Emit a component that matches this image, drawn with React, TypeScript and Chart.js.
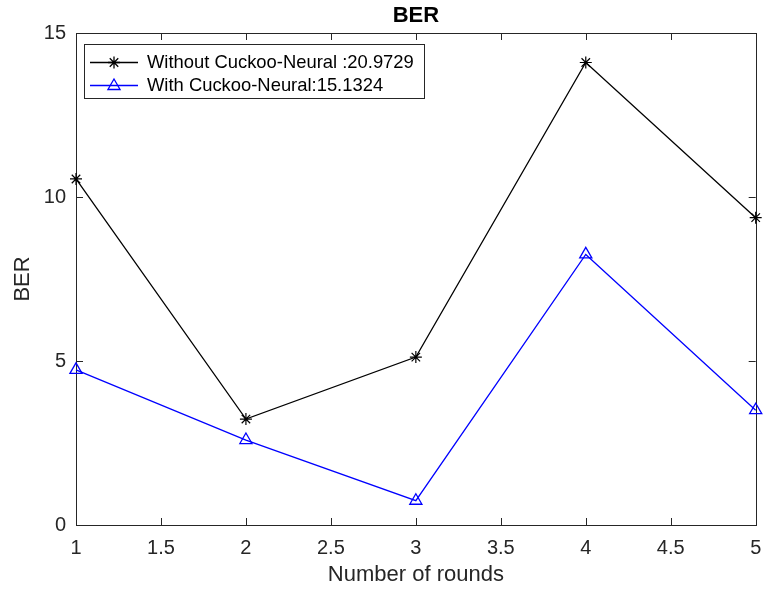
import React, { useEffect, useRef } from 'react';
import { Chart, registerables } from 'chart.js';

Chart.register(...registerables);

const rounds = [1, 2, 3, 4, 5];
const withoutCuckoo = [10.55, 3.23, 5.12, 14.1, 9.37];
const withCuckoo = [4.73, 2.59, 0.74, 8.25, 3.5];
const seriesLabels = ['Without Cuckoo-Neural :20.9729', 'With Cuckoo-Neural:15.1324'];
const xTicks = [1, 1.5, 2, 2.5, 3, 3.5, 4, 4.5, 5];
const yTicks = [0, 5, 10, 15];
const chartTitle = 'BER';
const xTitle = 'Number of rounds';
const yTitle = 'BER';

const FONT = '"Liberation Sans", Arial, Helvetica, sans-serif';
const AXIS = '#262626';

function drawStar(ctx: CanvasRenderingContext2D, x: number, y: number, r: number) {
  ctx.beginPath();
  for (let i = 0; i < 4; i++) {
    const a = (i * Math.PI) / 4;
    ctx.moveTo(x - Math.cos(a) * r, y - Math.sin(a) * r);
    ctx.lineTo(x + Math.cos(a) * r, y + Math.sin(a) * r);
  }
  ctx.stroke();
}

function drawTriangle(ctx: CanvasRenderingContext2D, x: number, y: number, r: number) {
  ctx.beginPath();
  let rad = 0;
  ctx.moveTo(x + Math.sin(rad) * r, y - Math.cos(rad) * r);
  rad += (2 * Math.PI) / 3;
  ctx.lineTo(x + Math.sin(rad) * r, y - Math.cos(rad) * r);
  rad += (2 * Math.PI) / 3;
  ctx.lineTo(x + Math.sin(rad) * r, y - Math.cos(rad) * r);
  ctx.closePath();
  ctx.stroke();
}

const framePlugin = {
  id: 'matlabFrame',
  beforeDatasetsDraw(chart: any) {
    const ctx = chart.ctx as CanvasRenderingContext2D;
    const { left, right, top, bottom } = chart.chartArea;
    const xs = chart.scales.x;
    const ys = chart.scales.y;
    const tl = 7;
    ctx.save();
    ctx.strokeStyle = AXIS;
    ctx.lineWidth = 1;
    ctx.strokeRect(Math.round(left) + 0.5, Math.round(top) + 0.5, Math.round(right - left), Math.round(bottom - top));
    ctx.beginPath();
    xs.ticks.forEach((t: any) => {
      const px = Math.round(xs.getPixelForValue(t.value)) + 0.5;
      ctx.moveTo(px, bottom);
      ctx.lineTo(px, bottom - tl);
      ctx.moveTo(px, top);
      ctx.lineTo(px, top + tl);
    });
    ys.ticks.forEach((t: any) => {
      const py = Math.round(ys.getPixelForValue(t.value)) + 0.5;
      ctx.moveTo(left, py);
      ctx.lineTo(left + tl, py);
      ctx.moveTo(right, py);
      ctx.lineTo(right - tl, py);
    });
    ctx.stroke();
    ctx.restore();
  },
  afterDraw(chart: any) {
    const ctx = chart.ctx as CanvasRenderingContext2D;
    const { left, top } = chart.chartArea;
    ctx.save();
    ctx.font = `18.4px ${FONT}`;
    const bx = Math.round(left) + 8;
    const by = Math.round(top) + 11;
    const textX = bx + 63;
    const labels = chart.data.datasets.map((d: any) => d.label as string);
    const w = Math.max(...labels.map((l: string) => ctx.measureText(l).width));
    const bw = Math.round(textX - bx + w + 10);
    const bh = 54;
    ctx.fillStyle = '#ffffff';
    ctx.fillRect(bx, by, bw, bh);
    ctx.strokeStyle = AXIS;
    ctx.lineWidth = 1;
    ctx.strokeRect(bx + 0.5, by + 0.5, bw, bh);
    const rowsY = [by + 18, by + 41];
    chart.data.datasets.forEach((d: any, i: number) => {
      const y = rowsY[i];
      ctx.strokeStyle = d.borderColor;
      ctx.lineWidth = d.borderWidth;
      ctx.beginPath();
      ctx.moveTo(bx + 6, y + 0.5);
      ctx.lineTo(bx + 54, y + 0.5);
      ctx.stroke();
      if (d.pointStyle === 'star') drawStar(ctx, bx + 30, y + 0.5, 6);
      else drawTriangle(ctx, bx + 30, y + 1, 7);
      ctx.fillStyle = '#000000';
      ctx.textBaseline = 'middle';
      ctx.textAlign = 'left';
      ctx.fillText(d.label, textX, y + 1);
    });
    ctx.restore();
  },
};

export default function App() {
  const ref = useRef<HTMLCanvasElement | null>(null);
  useEffect(() => {
    if (!ref.current) return;
    const chart = new Chart(ref.current, {
      type: 'line',
      data: {
        datasets: [
          {
            label: seriesLabels[0],
            data: rounds.map((r, i) => ({ x: r, y: withoutCuckoo[i] })),
            borderColor: '#000000',
            backgroundColor: 'rgba(0,0,0,0)',
            borderWidth: 1.3,
            pointStyle: 'star',
            pointRadius: 6,
            pointBorderWidth: 1.2,
            tension: 0,
            clip: false as any,
          },
          {
            label: seriesLabels[1],
            data: rounds.map((r, i) => ({ x: r, y: withCuckoo[i] })),
            borderColor: '#0000ff',
            backgroundColor: 'rgba(0,0,0,0)',
            borderWidth: 1.3,
            pointStyle: 'triangle',
            pointRadius: 7,
            pointBorderWidth: 1.3,
            tension: 0,
            clip: false as any,
          },
        ],
      },
      options: {
        responsive: false,
        animation: false,
        devicePixelRatio: 1,
        layout: { padding: { left: 0, right: 4, top: 0, bottom: 0 } },
        plugins: {
          legend: { display: false },
          tooltip: { enabled: false },
          title: {
            display: true,
            fullSize: false,
            text: chartTitle,
            color: '#000000',
            font: { family: FONT, size: 22, weight: 'bold' },
            padding: { top: 3, bottom: 3.6 },
          },
        },
        scales: {
          x: {
            type: 'linear',
            min: 1,
            max: 5,
            afterBuildTicks: (s: any) => {
              s.ticks = xTicks.map((v) => ({ value: v }));
            },
            afterFit: (s: any) => {
              s.height = 67;
              s.paddingLeft = 0;
              s.paddingRight = 0;
            },
            grid: { display: false, drawTicks: false },
            border: { display: false },
            ticks: {
              color: AXIS,
              font: { family: FONT, size: 20 },
              padding: 11,
              maxRotation: 0,
              autoSkip: false,
              callback: (v: any) => String(v),
            },
            title: {
              display: true,
              text: xTitle,
              color: AXIS,
              font: { family: FONT, size: 22 },
              padding: { top: 4, bottom: 4 },
            },
          },
          y: {
            type: 'linear',
            min: 0,
            max: 15,
            afterBuildTicks: (s: any) => {
              s.ticks = yTicks.map((v) => ({ value: v }));
            },
            afterFit: (s: any) => {
              s.width = 76;
              s.paddingTop = 0;
              s.paddingBottom = 0;
            },
            grid: { display: false, drawTicks: false },
            border: { display: false },
            ticks: {
              color: AXIS,
              font: { family: FONT, size: 20 },
              padding: 10,
              autoSkip: false,
              callback: (v: any) => String(v),
            },
            title: {
              display: true,
              text: yTitle,
              color: AXIS,
              font: { family: FONT, size: 22 },
              padding: { top: 10, bottom: 0 },
            },
          },
        },
      },
      plugins: [framePlugin],
    });
    return () => chart.destroy();
  }, []);
  return (
    <div style={{ position: 'absolute', left: 0, top: 0, width: 764, height: 592 }}>
      <canvas ref={ref} width={764} height={592} style={{ width: 764, height: 592, display: 'block' }} />
    </div>
  );
}
